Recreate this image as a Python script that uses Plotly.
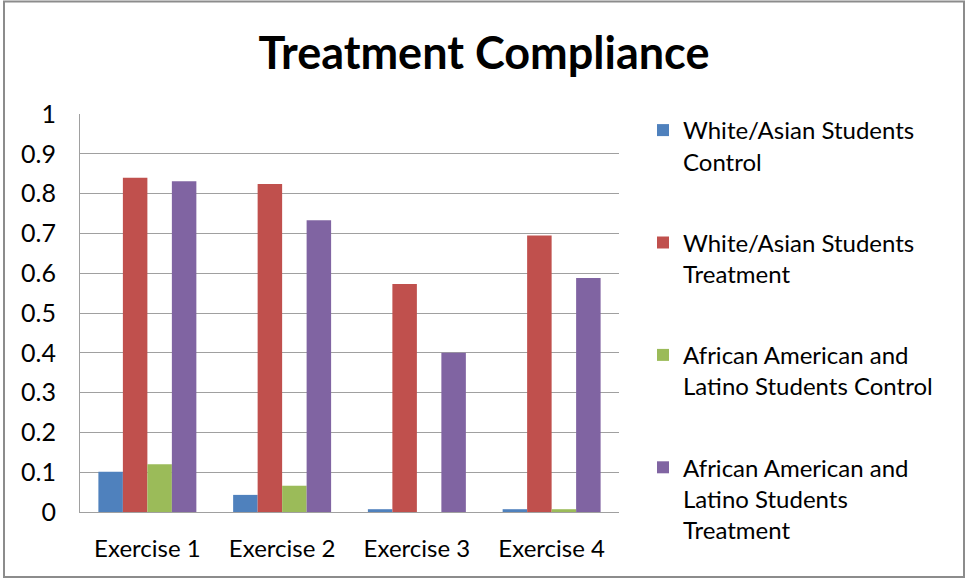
import plotly.graph_objects as go

categories = ["Exercise 1", "Exercise 2", "Exercise 3", "Exercise 4"]
series_names = [
    "White/Asian Students<br>Control",
    "White/Asian Students<br>Treatment",
    "African American and<br>Latino Students Control",
    "African American and<br>Latino Students<br>Treatment",
]
white_control = [0.101, 0.043, 0.007, 0.007]
white_treatment = [0.840, 0.824, 0.573, 0.695]
afl_control = [0.120, 0.066, 0.0, 0.007]
afl_treatment = [0.831, 0.733, 0.400, 0.588]
colors = ["#4F81BD", "#C0504D", "#9BBB59", "#8064A2"]
y_ticks = [0, 0.1, 0.2, 0.3, 0.4, 0.5, 0.6, 0.7, 0.8, 0.9, 1]
y_tick_labels = ["0", "0.1", "0.2", "0.3", "0.4", "0.5", "0.6", "0.7", "0.8", "0.9", "1"]

W, H = 966, 579
L, R, T, B = 80, 619, 114, 512

fig = go.Figure()
for name, vals, col, grp in zip(series_names,
                                [white_control, white_treatment, afl_control, afl_treatment],
                                colors, ["a", "b", "c", "d"]):
    fig.add_trace(go.Bar(x=categories, y=vals, name=name, marker_color=col,
                         marker_line_width=0, legendgroup=grp))

def px_x(p):
    return (p - L) / (R - L)

def px_y(p):
    return (B - p) / (B - T)

fig.update_layout(
    width=W, height=H,
    margin=dict(l=L, r=W - R, t=T, b=H - B),
    paper_bgcolor="white", plot_bgcolor="white",
    font=dict(family="Lato", size=24, color="#000000"),
    barmode="group", bargap=0.273, bargroupgap=0,
    title=dict(text="<b>Treatment Compliance</b>", x=484 / W, xanchor="center",
               y=1 - 53 / H, yanchor="middle",
               font=dict(family="Lato", size=45, color="#000000")),
    legend=dict(x=px_x(643), xanchor="left", y=px_y(108), yanchor="top",
                traceorder="grouped", tracegroupgap=47, valign="top",
                maxheight=1.0,
                font=dict(family="Lato", size=24, color="#000000"),
                bgcolor="rgba(0,0,0,0)"),
    xaxis=dict(showline=True, linecolor="#A0A0A0", linewidth=1, ticks="",
               ticklabelstandoff=15, showgrid=False,
               tickfont=dict(family="Lato", size=24)),
    yaxis=dict(range=[0, 1], tickvals=y_ticks, ticktext=y_tick_labels,
               showline=True, linecolor="#A0A0A0", linewidth=1,
               showgrid=True, gridcolor="#A0A0A0", gridwidth=1,
               zeroline=False, ticks="", ticklabelstandoff=18,
               tickfont=dict(family="Lato", size=25)),
    shapes=[dict(type="rect", xref="paper", yref="paper",
                 x0=px_x(4), x1=px_x(964), y0=px_y(577), y1=px_y(1.5),
                 line=dict(color="#8C8C8C", width=2), layer="below")],
)

fig.write_html("out.html")
